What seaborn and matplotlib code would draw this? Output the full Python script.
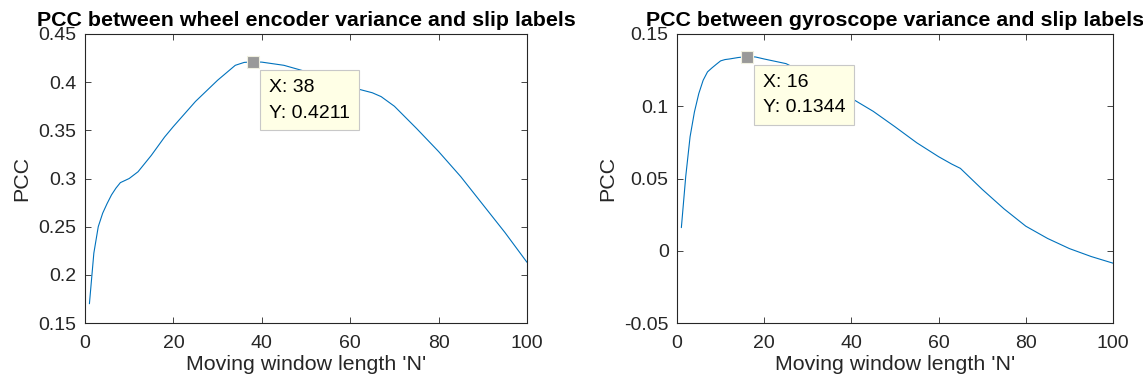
import numpy as np
import pandas as pd
import matplotlib
matplotlib.use("Agg")
import matplotlib.pyplot as plt
import seaborn as sns

# Data
wheel_N = [1, 2, 3, 4, 5, 6, 7, 8, 10, 12, 15, 18, 20, 25, 30, 34, 36, 38, 40, 45, 50, 55, 60, 65, 67, 70, 75, 80, 85, 90, 95, 100]
wheel_pcc = [0.170, 0.2225, 0.250, 0.264, 0.274, 0.283, 0.290, 0.2957, 0.300, 0.307, 0.324, 0.343, 0.354, 0.380, 0.402, 0.4175, 0.4205, 0.4211, 0.4208, 0.4175, 0.411, 0.403, 0.395, 0.389, 0.385, 0.375, 0.352, 0.328, 0.302, 0.273, 0.244, 0.213]

gyro_N = [1, 2, 3, 4, 5, 6, 7, 8, 9, 10, 11, 12, 14, 16, 18, 20, 25, 30, 35, 40, 45, 50, 55, 60, 63, 65, 70, 75, 80, 85, 90, 95, 100]
gyro_pcc = [0.016, 0.0513, 0.0789, 0.0961, 0.1088, 0.118, 0.1238, 0.1265, 0.1290, 0.1314, 0.1323, 0.1327, 0.1337, 0.1344, 0.1341, 0.1327, 0.1295, 0.122, 0.114, 0.1055, 0.0965, 0.0858, 0.0747, 0.0651, 0.060, 0.057, 0.0425, 0.029, 0.0170, 0.0085, 0.0015, -0.0040, -0.0086]

titles = ["PCC between wheel encoder variance and slip labels",
          "PCC between gyroscope variance and slip labels"]
xlabel = "Moving window length 'N'"
ylabel = "PCC"
tips = [(38, 0.4211, "X: 38\nY: 0.4211"), (16, 0.1344, "X: 16\nY: 0.1344")]
ylims = [(0.15, 0.45), (-0.05, 0.15)]
yticks = [[0.15, 0.2, 0.25, 0.3, 0.35, 0.4, 0.45], [-0.05, 0, 0.05, 0.1, 0.15]]
yticklabels = [["0.15", "0.2", "0.25", "0.3", "0.35", "0.4", "0.45"], ["-0.05", "0", "0.05", "0.1", "0.15"]]
xticks = [0, 20, 40, 60, 80, 100]

sns.set_style("white")
plt.rcParams['font.family'] = ['Liberation Sans', 'DejaVu Sans']

W, H = 1143, 383
fig = plt.figure(figsize=(W/100, H/100), dpi=100)
axes = [fig.add_axes([85/W, 1-323/H, (527-85)/W, (323-34)/H]),
        fig.add_axes([677/W, 1-323/H, (1113-677)/W, (323-34)/H])]

dfs = [pd.DataFrame({"N": wheel_N, "PCC": wheel_pcc}),
       pd.DataFrame({"N": gyro_N, "PCC": gyro_pcc})]

edge = "#262626"
for i, ax in enumerate(axes):
    sns.lineplot(data=dfs[i], x="N", y="PCC", ax=ax, color="#0072BD", linewidth=0.8)
    ax.set_xlim(0, 100)
    ax.set_ylim(*ylims[i])
    ax.set_xticks(xticks)
    ax.set_xticklabels([str(t) for t in xticks])
    ax.set_yticks(yticks[i])
    ax.set_yticklabels(yticklabels[i])
    ax.tick_params(direction="in", length=4, width=0.6, colors=edge, labelsize=14,
                   top=True, right=True, bottom=True, left=True)
    ax.tick_params(axis="x", pad=9)
    ax.tick_params(axis="y", pad=6)
    for s in ax.spines.values():
        s.set_color(edge)
        s.set_linewidth(0.8)
    ax.set_xlabel(xlabel, fontsize=15.4, color=edge, labelpad=2)
    ax.set_ylabel(ylabel, fontsize=15.4, color=edge, labelpad=5)
    ax.set_title(titles[i], fontsize=15.4, fontweight="bold", pad=6, color="black")
    tx, ty, tt = tips[i]
    ax.plot([tx], [ty], marker="s", markersize=8, color="#999999",
            markeredgecolor="#f0f0e0", markeredgewidth=0.8, zorder=5)
    ax.annotate(tt, xy=(tx, ty), xytext=(11.5, -12.5), textcoords="offset points",
                ha="left", va="top", fontsize=14, color="black", linespacing=1.65,
                bbox=dict(boxstyle="square,pad=0.45", fc="#FFFFE6", ec="#c8c8c8", lw=0.8),
                zorder=6)

fig.savefig("out.png", dpi=100)
